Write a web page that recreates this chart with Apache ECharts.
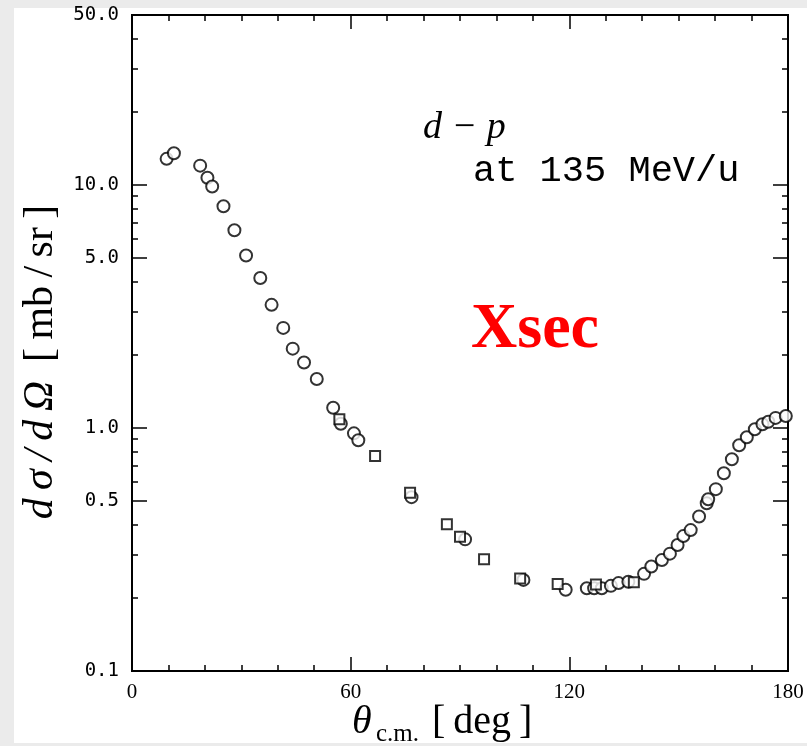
<!DOCTYPE html>
<html><head><meta charset="utf-8">
<script src="https://cdn.jsdelivr.net/npm/echarts@6/dist/echarts.min.js"></script>
<style>
html,body{margin:0;padding:0;background:#ebebeb;}
#panel{position:absolute;left:14px;top:8px;width:793px;height:735px;background:#fff;}
#chart{position:absolute;left:0;top:0;width:807px;height:746px;}
</style></head><body>
<div id="panel"></div><div id="chart"></div>
<script>
// circles (open)
const circleTheta = [9.5, 11.5, 18.7, 20.7, 22.0, 25.1, 28.1, 31.3, 35.2, 38.3, 41.5, 44.1, 47.2, 50.7, 55.2, 57.3, 60.9, 62.1,
  76.7, 91.4, 107.4, 119.0, 124.8, 126.8, 128.9, 131.4, 133.5, 136.2, 140.5, 142.5, 145.4, 147.6, 149.7, 151.3, 153.3,
  155.6, 157.7, 158.1, 160.2, 162.4, 164.6, 166.6, 168.7, 170.9, 173.0, 174.6, 176.6, 179.4];
const circleXsec = [12.8, 13.5, 12.0, 10.7, 9.85, 8.17, 6.51, 5.12, 4.14, 3.21, 2.58, 2.12, 1.86, 1.59, 1.21, 1.04, 0.95, 0.89,
  0.519, 0.348, 0.237, 0.216, 0.219, 0.219, 0.219, 0.224, 0.230, 0.233, 0.251, 0.269, 0.286, 0.304, 0.330, 0.359, 0.380,
  0.432, 0.490, 0.509, 0.560, 0.651, 0.743, 0.849, 0.916, 0.988, 1.035, 1.06, 1.10, 1.12];
// squares (open)
const squareTheta = [56.9, 66.7, 76.3, 86.4, 90.0, 96.6, 106.5, 116.8, 127.3, 137.7];
const squareXsec = [1.086, 0.767, 0.541, 0.402, 0.357, 0.288, 0.240, 0.228, 0.227, 0.232];

const xLabelValues = [0, 60, 120, 180];
const xMajorTicks = [60, 120];
const xMinorTicks = [10, 20, 30, 40, 50, 70, 80, 90, 100, 110, 130, 140, 150, 160, 170];
const yLabelValues = [0.1, 0.5, 1, 5, 10, 50];
const yMajorTicks = [0.5, 1, 5, 10];
const yMinorTicks = [0.2, 0.3, 0.4, 0.6, 0.7, 0.8, 0.9, 2, 3, 4, 6, 7, 8, 9, 20, 30, 40];

const chart = echarts.init(document.getElementById('chart'), null, {renderer: 'canvas'});

function xAx(position, ticks, len, labels) {
  return {
    type: 'value', min: 0, max: 180, position: position,
    axisLine: {show: false, onZero: false}, splitLine: {show: false},
    axisTick: {show: true, inside: true, length: len, customValues: ticks, lineStyle: {color: '#000', width: 1.5}},
    axisLabel: labels ? {show: true, customValues: labels, margin: 11, color: '#000',
      fontFamily: 'Liberation Serif', fontSize: 21} : {show: false}
  };
}
function yAx(position, ticks, len, labels) {
  return {
    type: 'log', logBase: 10, min: 0.1, max: 50, position: position,
    axisLine: {show: false, onZero: false}, splitLine: {show: false}, minorTick: {show: false},
    axisTick: {show: true, inside: true, length: len, customValues: ticks, lineStyle: {color: '#000', width: 1.5}},
    axisLabel: labels ? {show: true, customValues: labels, margin: 13, color: '#000',
      fontFamily: 'DejaVu Sans Mono', fontSize: 19,
      formatter: function (v) { return Number(v).toFixed(1); }} : {show: false}
  };
}

const circles = circleTheta.map((t, i) => [t, circleXsec[i]]);
const squares = squareTheta.map((t, i) => [t, squareXsec[i]]);
const ts = '\u2009';

chart.setOption({
  animation: false,
  backgroundColor: 'transparent',
  grid: {left: 132, top: 15, width: 656, height: 656, show: true, borderColor: '#000', borderWidth: 2,
    backgroundColor: 'transparent'},
  xAxis: [xAx('bottom', xMajorTicks, 14, xLabelValues), xAx('bottom', xMinorTicks, 6, null),
          xAx('top', xMajorTicks, 14, null), xAx('top', xMinorTicks, 6, null)],
  yAxis: [yAx('left', yMajorTicks, 15, yLabelValues), yAx('left', yMinorTicks, 6, null),
          yAx('right', yMajorTicks, 15, null), yAx('right', yMinorTicks, 6, null)],
  series: [
    {type: 'scatter', xAxisIndex: 0, yAxisIndex: 0, data: circles, symbol: 'circle', symbolSize: 12, z: 3,
      itemStyle: {color: '#fff', borderColor: '#000', borderWidth: 2}},
    {type: 'scatter', xAxisIndex: 0, yAxisIndex: 0, data: squares, symbol: 'rect', symbolSize: 10, z: 4,
      itemStyle: {color: '#fff', borderColor: '#000', borderWidth: 2}}
  ],
  graphic: [
    {type: 'text', left: 423, top: 109, style: {text: 'd − p', fontFamily: 'Liberation Serif', fontStyle: 'italic',
      fontSize: 38, fill: '#000'}},
    {type: 'text', left: 473, top: 153, style: {text: 'at 135 MeV/u', fontFamily: 'Liberation Mono',
      fontSize: 37, fill: '#000'}},
    {type: 'text', left: 471, top: 298, style: {text: 'Xsec', fontFamily: 'Liberation Serif', fontWeight: 'bold',
      fontSize: 64, fill: '#ff0000'}},
    {type: 'text', x: 41, y: 362, rotation: Math.PI / 2,
      style: {text: '{i|d' + ts + 'σ' + ts + '/' + ts + 'd' + ts + 'Ω}' + ts + ' [' + ts + 'mb' + ts + '/' + ts + 'sr' + ts + ']',
        x: 0, y: 0, align: 'center', verticalAlign: 'middle',
        fontFamily: 'Liberation Serif', fontSize: 42, fill: '#000',
        rich: {i: {fontFamily: 'Liberation Serif', fontStyle: 'italic', fontSize: 42}}}},
    {type: 'text', x: 352, y: 722, style: {text: 'θ', fontFamily: 'Liberation Serif', fontStyle: 'italic',
      fontSize: 40, fill: '#000', verticalAlign: 'middle'}},
    {type: 'text', x: 376, y: 734, style: {text: 'c.m.', fontFamily: 'Liberation Serif',
      fontSize: 25, fill: '#000', verticalAlign: 'middle'}},
    {type: 'text', x: 432, y: 722, style: {text: '[' + ts + 'deg' + ts + ']', fontFamily: 'Liberation Serif',
      fontSize: 40, fill: '#000', verticalAlign: 'middle'}}
  ]
});
</script></body></html>
